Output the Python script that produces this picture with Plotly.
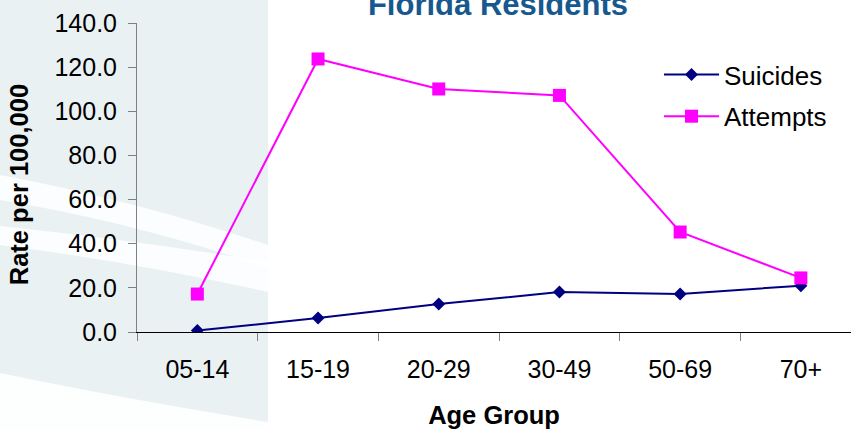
import plotly.graph_objects as go

# ---- data ----
age_groups = ["05-14", "15-19", "20-29", "30-49", "50-69", "70+"]
suicides = [0.7, 6.3, 12.7, 18.1, 17.2, 21.0]
attempts = [17.2, 123.7, 110.1, 107.2, 45.3, 24.5]
y_ticks = [0, 20, 40, 60, 80, 100, 120, 140]

W, H = 851, 429
L, R, T, B = 137, 0, 23, 97
PW, PH = W - L - R, H - T - B


def px(x):
    return (x - L) / PW


def py(y):
    return (H - B - y) / PH


def path(points):
    out = []
    for item in points:
        cmd = item[0]
        coords = item[1:]
        pairs = []
        for i in range(0, len(coords), 2):
            pairs.append(f"{px(coords[i]):.5f},{py(coords[i+1]):.5f}")
        out.append(cmd + " " + " ".join(pairs))
    return " ".join(out) + " Z"


FONT = "Liberation Sans, Arial, sans-serif"

fig = go.Figure()
fig.add_trace(go.Scatter(
    x=age_groups, y=suicides, name="Suicides", mode="lines+markers",
    line=dict(color="#000080", width=2),
    marker=dict(symbol="diamond", size=10, color="#000080"),
    legendgroup="s",
))
fig.add_trace(go.Scatter(
    x=age_groups, y=attempts, name="Attempts", mode="lines+markers",
    line=dict(color="#FF00FF", width=2),
    marker=dict(symbol="square", size=13, color="#FF00FF"),
    legendgroup="a",
))

shapes = [
    dict(type="rect", xref="paper", yref="paper", x0=px(0), x1=px(268),
         y0=py(H), y1=py(0), fillcolor="#EAF1F3", line=dict(width=0), layer="below"),
    dict(type="path", xref="paper", yref="paper", layer="below",
         path=path([("M", 0, 175), ("Q", 134, 200, 268, 245), ("L", 268, 268),
                    ("Q", 134, 222, 0, 200)]),
         fillcolor="rgba(255,255,255,0.85)", line=dict(width=0)),
    dict(type="path", xref="paper", yref="paper", layer="below",
         path=path([("M", 0, 226), ("Q", 134, 240, 268, 262), ("L", 268, 292),
                    ("Q", 134, 262, 0, 245)]),
         fillcolor="rgba(255,255,255,0.85)", line=dict(width=0)),
    dict(type="path", xref="paper", yref="paper", layer="below",
         path=path([("M", 0, 373), ("Q", 120, 398, 268, 422), ("L", 268, 429),
                    ("L", 0, 429)]),
         fillcolor="rgba(255,255,255,0.9)", line=dict(width=0)),
]

fig.update_layout(
    width=W, height=H,
    margin=dict(l=L, r=R, t=T, b=B, pad=0),
    paper_bgcolor="white",
    plot_bgcolor="rgba(0,0,0,0)",
    font=dict(family=FONT, color="black", size=24),
    title=dict(text="<b>Florida Residents</b>", x=498 / W, xanchor="center",
               y=0.9895, yanchor="middle", yref="container",
               font=dict(family=FONT, size=31, color="#17598F")),
    showlegend=True,
    legend=dict(x=px(659), y=py(51), xanchor="left", yanchor="top",
                xref="paper", yref="paper",
                font=dict(family=FONT, size=26, color="black"),
                bgcolor="rgba(0,0,0,0)", borderwidth=0,
                traceorder="grouped", tracegroupgap=5, itemwidth=55),
    shapes=shapes,
)

fig.update_xaxes(
    type="category", categoryorder="array", categoryarray=age_groups,
    range=[-0.5, -0.5 + PW / 120.7],
    tickson="boundaries", ticks="outside", ticklen=8, tickcolor="#808080",
    showline=True, linecolor="black", linewidth=1, showgrid=False, zeroline=False,
    tickfont=dict(family=FONT, size=25, color="black"),
    ticklabelstandoff=15,
    title=dict(text="<b>Age Group</b>", font=dict(family=FONT, size=25.5, color="black"),
               standoff=24),
)
fig.update_yaxes(
    range=[0, 140], tickvals=y_ticks, tickformat=".1f",
    ticks="outside", ticklen=8, tickcolor="#808080",
    showline=True, linecolor="#808080", linewidth=1, showgrid=False, zeroline=False,
    tickfont=dict(family=FONT, size=25, color="black"),
    ticklabelstandoff=6,
    title=dict(text="<b>Rate per 100,000</b>&nbsp;&nbsp;",
               font=dict(family=FONT, size=25.5, color="black"),
               standoff=18),
)

fig.write_html("out.html", config={"displayModeBar": False},
               post_script="document.body.style.margin='0';")
